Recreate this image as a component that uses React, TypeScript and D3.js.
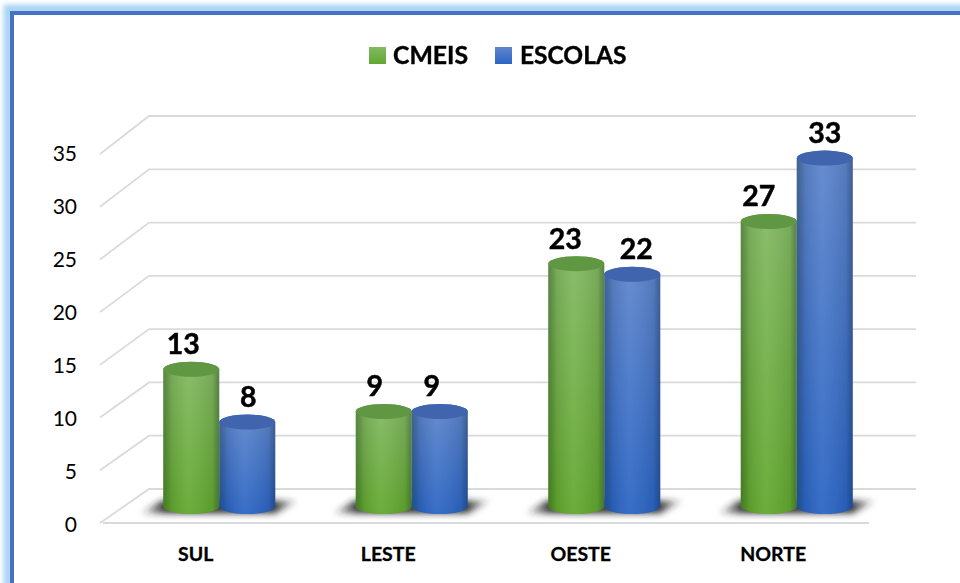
import React from 'react';
import * as d3 from 'd3';

const categories = ['SUL', 'LESTE', 'OESTE', 'NORTE'];
const seriesNames = ['CMEIS', 'ESCOLAS'];
const cmeis = [13, 9, 23, 27];
const escolas = [8, 9, 22, 33];
const yTicks = [0, 5, 10, 15, 20, 25, 30, 35];

const font = 'Lato, "Open Sans", sans-serif';
const ry = 7.5;

// the labels sit a bit left of the cylinders, more so for the first series
const labelNudge: Record<string, number[]> = {
  CMEIS: [-8, -9, -11, -10],
  ESCOLAS: [1, -8, 4, 0],
};

// bars stand on their own plane, between the front floor edge and the back wall
const x0 = d3.scaleBand().domain(categories).range([123, 893]);
const x1 = d3.scaleBand().domain(seriesNames).range([-56, 56]);
const yBar = d3.scaleLinear().domain([0, 35]).range([506.5, 137]);
const yBack = d3.scaleLinear().domain([0, 35]).range([489, 116]);
const yFront = d3.scaleLinear().domain([0, 35]).range([523, 154]);
const yLabel = d3.scaleLinear().domain([0, 35]).range([524, 153]);

const cylinder = (x: number, w: number, top: number, bottom: number) =>
  `M${x},${top}A${w / 2},${ry} 0 0 1 ${x + w},${top}L${x + w},${bottom}A${w / 2},${ry} 0 0 1 ${x},${bottom}Z`;

const Bar = ({ cat, name, value }: { cat: string; name: string; value: number }) => {
  const x = (x0(cat) as number) + x0.bandwidth() / 2 + (x1(name) as number);
  const w = x1.bandwidth();
  const top = yBar(value);
  const bottom = yBar(0);
  const id = name === 'CMEIS' ? 'green' : 'blue';
  return (
    <g>
      <path d={cylinder(x, w, top, bottom)} fill={`url(#${id}Body)`} />
      <path d={cylinder(x, w, top, bottom)} fill="url(#edge)" />
      <ellipse cx={x + w / 2} cy={top} rx={w / 2} ry={ry} fill={name === 'CMEIS' ? '#5f9743' : '#3f65ae'} />
    </g>
  );
};

const BarLabel = ({ cat, name, value, i }: { cat: string; name: string; value: number; i: number }) => {
  const x = (x0(cat) as number) + x0.bandwidth() / 2 + (x1(name) as number) + x1.bandwidth() / 2;
  return (
    <text
      x={x + labelNudge[name][i]}
      y={yBar(value) - 15}
      textAnchor="middle"
      fontFamily={font}
      fontWeight={700}
      fontSize={28.5}
      fill="#000"
      stroke="#000"
      strokeWidth={0.5}
    >
      {value}
    </text>
  );
};

export default function App() {
  return (
    <svg
      width={960}
      height={583}
      style={{ position: 'absolute', left: 0, top: 0, background: '#fff' }}
    >
      <defs>
        <linearGradient id="greenBody" x1="0" y1="0" x2="0" y2="1">
          <stop offset="0" stopColor="#83b963" />
          <stop offset="1" stopColor="#62a82f" />
        </linearGradient>
        <linearGradient id="blueBody" x1="0" y1="0" x2="0" y2="1">
          <stop offset="0" stopColor="#5f86cc" />
          <stop offset="1" stopColor="#2b65c4" />
        </linearGradient>
        <linearGradient id="edge" x1="0" y1="0" x2="1" y2="0">
          <stop offset="0" stopColor="#0a2a10" stopOpacity={0.35} />
          <stop offset="0.15" stopColor="#000" stopOpacity={0.08} />
          <stop offset="0.45" stopColor="#fff" stopOpacity={0.06} />
          <stop offset="0.88" stopColor="#000" stopOpacity={0.08} />
          <stop offset="1" stopColor="#0a1a30" stopOpacity={0.35} />
        </linearGradient>
        <linearGradient id="floorShadow" x1="0" y1="0" x2="1" y2="0">
          <stop offset="0" stopColor="#222" stopOpacity={0} />
          <stop offset="0.16" stopColor="#222" stopOpacity={0.9} />
          <stop offset="0.84" stopColor="#222" stopOpacity={0.9} />
          <stop offset="1" stopColor="#222" stopOpacity={0} />
        </linearGradient>
        <filter id="shadowBlur" x="-20%" y="-80%" width="140%" height="260%">
          <feGaussianBlur stdDeviation="3" />
        </filter>
        <filter id="glow" x="-5%" y="-5%" width="110%" height="110%">
          <feGaussianBlur stdDeviation="2.5" />
        </filter>
        <filter id="soft" x="-2%" y="-2%" width="104%" height="104%">
          <feGaussianBlur stdDeviation="0.45" />
        </filter>
      </defs>

      {/* frame */}
      <rect x={8} y={9} width={1000} height={640} fill="none" stroke="#a9d3f5" strokeWidth={9} filter="url(#glow)" />
      <rect x={12} y={13} width={1000} height={640} fill="#fff" stroke="#4472c4" strokeWidth={4} />

      {/* legend */}
      <g filter="url(#soft)">
        <rect x={369} y={47} width={17} height={17} fill="url(#greenBody)" />
        <text x={393} y={64} fontFamily={font} fontWeight={700} fontSize={24.8} fill="#000" stroke="#000" strokeWidth={0.4}>
          CMEIS
        </text>
        <rect x={495} y={47} width={17} height={17} fill="url(#blueBody)" />
        <text x={520} y={64} fontFamily={font} fontWeight={700} fontSize={24.5} fill="#000" stroke="#000" strokeWidth={0.4}>
          ESCOLAS
        </text>
      </g>

      {/* walls */}
      <g filter="url(#soft)" fill="none" stroke="#dadada" strokeWidth={1.8}>
        {yTicks.map((t) => (
          <path key={t} d={`M100,${yFront(t)}L149,${yBack(t)}L916,${yBack(t)}`} />
        ))}
        <path d={`M103,${yFront(0)}L869,${yFront(0)}`} />
      </g>

      {yTicks.map((t) => (
        <text key={t} x={77} y={yLabel(t)} dy="0.36em" textAnchor="end" fontFamily={font} fontSize={21} fill="#000">
          {t}
        </text>
      ))}

      {/* floor shadows */}
      {categories.map((c) => {
        const m = (x0(c) as number) + x0.bandwidth() / 2;
        return (
          <path
            key={c}
            d={`M${m - 80},${yBar(0) + 7}L${m - 58},${yBar(0) - 6}L${m + 80},${yBar(0) - 6}L${m + 56},${yBar(0) + 7}Z`}
            fill="url(#floorShadow)"
            filter="url(#shadowBlur)"
          />
        );
      })}

      {/* bars */}
      <g filter="url(#soft)">
        {categories.map((c, i) => (
          <g key={c}>
            <Bar cat={c} name="CMEIS" value={cmeis[i]} />
            <Bar cat={c} name="ESCOLAS" value={escolas[i]} />
          </g>
        ))}
      </g>

      {/* data labels */}
      <g filter="url(#soft)">
        {categories.map((c, i) => (
          <g key={c}>
            <BarLabel cat={c} name="CMEIS" value={cmeis[i]} i={i} />
            <BarLabel cat={c} name="ESCOLAS" value={escolas[i]} i={i} />
          </g>
        ))}
      </g>

      {/* category labels */}
      {categories.map((c) => (
        <text
          key={c}
          x={(x0(c) as number) + x0.bandwidth() / 2 - 23.5}
          y={561}
          textAnchor="middle"
          fontFamily={font}
          fontWeight={700}
          fontSize={19.5}
          fill="#000"
          stroke="#000"
          strokeWidth={0.3}
        >
          {c}
        </text>
      ))}
    </svg>
  );
}
